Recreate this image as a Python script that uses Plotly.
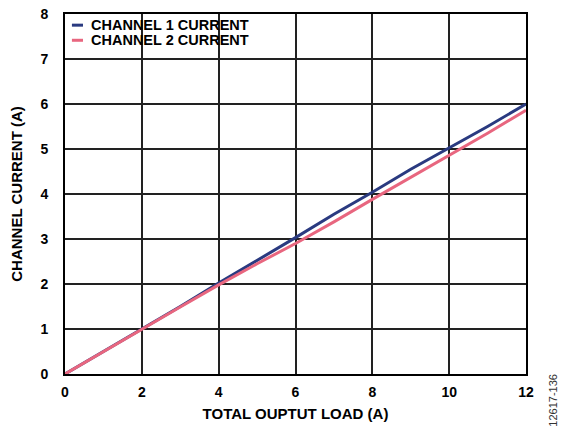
import plotly.graph_objects as go

# total output load (A)
load = [0, 1, 2, 3, 4, 5, 6, 7, 8, 9, 10, 11, 12]
# channel currents (A)
ch1_current = [0, 0.5, 1.0, 1.5, 2.02, 2.52, 3.03, 3.55, 4.04, 4.55, 5.03, 5.5, 6.0]
ch2_current = [0, 0.5, 1.0, 1.49, 1.98, 2.45, 2.9, 3.38, 3.88, 4.37, 4.85, 5.35, 5.86]

names = ["CHANNEL 1 CURRENT", "CHANNEL 2 CURRENT"]
colors = ["#2a3a80", "#e8667f"]

font_bold = dict(family="Liberation Sans, Arial, sans-serif", size=15,
                 color="black", weight="bold")
legend_font = dict(family="Liberation Sans, Arial, sans-serif", size=14.5,
                   color="black", weight="bold")
tick_font = dict(family="Liberation Sans, Arial, sans-serif", size=14,
                 color="black", weight="bold")

fig = go.Figure()
for y, name, c in zip([ch1_current, ch2_current], names, colors):
    fig.add_trace(go.Scatter(x=load, y=y, mode="lines", name=name,
                             line=dict(color=c, width=3), showlegend=False))

# hand-made legend (short line samples like the original)
for i, (name, c) in enumerate(zip(names, colors)):
    yy = 0.969 - i * 0.042
    fig.add_shape(type="line", xref="paper", yref="paper",
                  x0=0.015, x1=0.039, y0=yy, y1=yy,
                  line=dict(color=c, width=3))
    fig.add_annotation(xref="paper", yref="paper", x=0.052, y=yy,
                       text=name, showarrow=False,
                       xanchor="left", yanchor="middle", font=legend_font)

fig.add_annotation(xref="paper", yref="paper", x=1.058, y=-0.072,
                   text="12617-136", textangle=-90, showarrow=False,
                   xanchor="center", yanchor="middle",
                   font=dict(family="Liberation Sans, Arial, sans-serif", size=11, color="#333"))

fig.update_xaxes(
    range=[0, 12], tickmode="linear", tick0=0, dtick=2,
    showgrid=True, gridcolor="#222", gridwidth=1.5,
    showline=True, linecolor="black", linewidth=2, mirror=True,
    zeroline=False, ticks="", ticklabelstandoff=4, automargin=False,
    tickfont=tick_font,
    title=dict(text="TOTAL OUPTUT LOAD (A)", font=font_bold, standoff=10),
)
fig.update_yaxes(
    range=[0, 8], tickmode="linear", tick0=0, dtick=1,
    showgrid=True, gridcolor="#222", gridwidth=1.5,
    showline=True, linecolor="black", linewidth=2, mirror=True,
    zeroline=False, ticks="", ticklabelstandoff=12, automargin=False,
    tickfont=tick_font,
    title=dict(text="CHANNEL CURRENT (A)", font=font_bold, standoff=14),
)
fig.update_layout(
    width=561, height=426,
    margin=dict(l=65, r=35, t=14, b=52),
    plot_bgcolor="white", paper_bgcolor="white",
)

# drop the default page margin so the figure sits at the window's corner
fig.write_html("out.html", config={"displayModeBar": False},
               post_script="document.body.style.margin='0';")
